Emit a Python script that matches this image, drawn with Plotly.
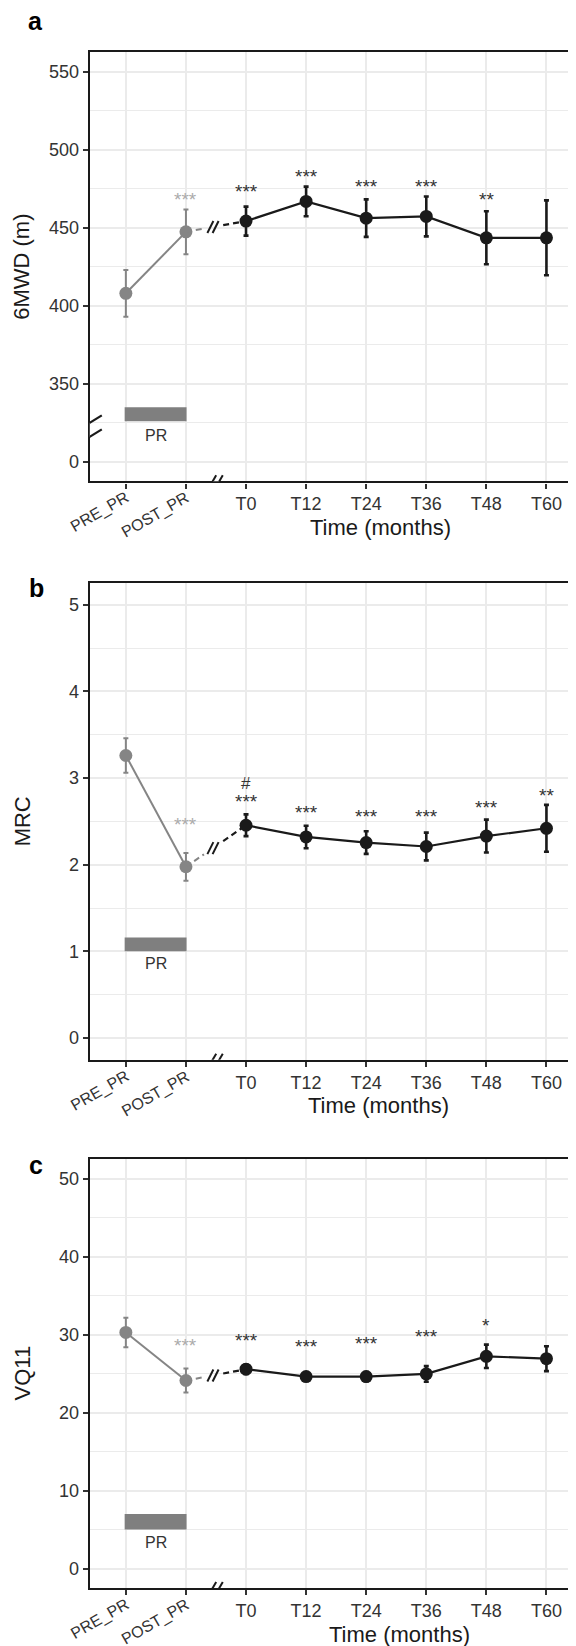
import plotly.graph_objects as go

# ---------------- data ----------------
categories = ["PRE_PR", "POST_PR", "T0", "T12", "T24", "T36", "T48", "T60"]
time_labels = ["T0", "T12", "T24", "T36", "T48", "T60"]

mwd_mean = [408.0, 447.4, 454.3, 466.9, 456.2, 457.3, 443.6, 443.6]
mwd_err = [15.0, 14.4, 9.3, 9.5, 12.0, 12.8, 17.0, 24.0]
mwd_sig = ["", "***", "***", "***", "***", "***", "**", ""]
mwd_sig_y = [None, 470.9, 475.6, 485.4, 479.0, 479.0, 470.9, None]
mwd_tickvals = [300, 350, 400, 450, 500, 550]
mwd_ticktext = ["0", "350", "400", "450", "500", "550"]

mrc_mean = [3.26, 1.976, 2.455, 2.32, 2.255, 2.21, 2.33, 2.42]
mrc_err = [0.20, 0.16, 0.125, 0.13, 0.13, 0.16, 0.19, 0.27]
mrc_sig = ["", "***", "***", "***", "***", "***", "***", "**"]
mrc_sig_y = [None, 2.505, 2.77, 2.65, 2.60, 2.60, 2.71, 2.85]
mrc_hash = ["", "", "#", "", "", "", "", ""]
mrc_hash_y = [None, None, 2.94, None, None, None, None, None]
mrc_tickvals = [0, 1, 2, 3, 4, 5]
mrc_ticktext = ["0", "1", "2", "3", "4", "5"]

vq_mean = [30.26, 24.1, 25.55, 24.6, 24.6, 24.95, 27.2, 26.9]
vq_err = [1.9, 1.55, 0.6, 0.5, 0.6, 1.0, 1.5, 1.6]
vq_sig = ["", "***", "***", "***", "***", "***", "*", ""]
vq_sig_y = [None, 29.1, 29.8, 29.0, 29.4, 30.3, 31.7, None]
vq_tickvals = [0, 10, 20, 30, 40, 50]
vq_ticktext = ["0", "10", "20", "30", "40", "50"]

y_titles = ["6MWD (m)", "MRC", "VQ11"]
panel_letters = ["a", "b", "c"]
x_title = "Time (months)"
pr_label = "PR"

# ---------------- style / layout constants ----------------
W, H = 576, 1646
FONT = "Liberation Sans, Arial, sans-serif"
GREY = "#858585"
GREY_TXT = "#ababab"
BLACK = "#1a1a1a"
GRID = "#ebebeb"
BAR = "#7f7f7f"

x_dom = [81.8 / W, 574.5 / W]
panels_px = [(44.3, 473.3), (575.0, 1051.7), (1151.0, 1580.0)]
letter_px = [(27, 13.5), (28, 580), (27.5, 1156.5)]
y_ranges = [[287.5, 562.5], [-0.25, 5.25], [-2.5, 52.5]]
minor_dt = [25, 0.5, 5]
pr_rect = [(326, 335), (1.0, 1.16), (5.0, 7.0)]
pr_text_y = [316.8, 0.856, 3.3]
xtitle_x = [4.23, 4.2, 4.55]

idx = list(range(len(categories)))

means = [mwd_mean, mrc_mean, vq_mean]
errs = [mwd_err, mrc_err, vq_err]
sigs = [mwd_sig, mrc_sig, vq_sig]
sig_ys = [mwd_sig_y, mrc_sig_y, vq_sig_y]
tvals = [mwd_tickvals, mrc_tickvals, vq_tickvals]
ttext = [mwd_ticktext, mrc_ticktext, vq_ticktext]

fig = go.Figure()
shapes = []
annotations = []


def lerp(a, b, t):
    return a + (b - a) * t


for p in range(3):
    sfx = "" if p == 0 else str(p + 1)
    xr, yr = "x" + sfx, "y" + sfx
    m, e = means[p], errs[p]

    # grey PR segment
    fig.add_trace(go.Scatter(
        x=idx[0:2], y=m[0:2], mode="lines+markers", xaxis=xr, yaxis=yr,
        line=dict(color=GREY, width=2),
        marker=dict(color=GREY, size=13),
        error_y=dict(type="data", array=e[0:2], color=GREY, thickness=2, width=2.5),
        hoverinfo="skip"))
    # dashed connection (grey half / black half, broken)
    t1, t2 = 0.30, 0.62
    fig.add_trace(go.Scatter(
        x=[idx[1], lerp(idx[1], idx[2], t1)], y=[m[1], lerp(m[1], m[2], t1)],
        mode="lines", xaxis=xr, yaxis=yr,
        line=dict(color=GREY, width=2, dash="6px,4px"), hoverinfo="skip"))
    fig.add_trace(go.Scatter(
        x=[lerp(idx[1], idx[2], t2), idx[2]], y=[lerp(m[1], m[2], t2), m[2]],
        mode="lines", xaxis=xr, yaxis=yr,
        line=dict(color=BLACK, width=2.2, dash="6px,4px"), hoverinfo="skip"))
    # black follow-up series
    fig.add_trace(go.Scatter(
        x=idx[2:], y=m[2:], mode="lines+markers", xaxis=xr, yaxis=yr,
        line=dict(color=BLACK, width=2.2),
        marker=dict(color=BLACK, size=13),
        error_y=dict(type="data", array=e[2:], color=BLACK, thickness=2.6, width=2.5),
        hoverinfo="skip"))

    # data-line break slashes
    tb = 0.45
    ymid = lerp(m[1], m[2], tb)
    xb = lerp(idx[1], idx[2], tb)
    for off in (-2.6, 2.6):
        shapes.append(dict(type="line", xref=xr, yref=yr, xsizemode="pixel", ysizemode="pixel",
                           xanchor=xb, yanchor=ymid, x0=off - 3, x1=off + 3, y0=-6, y1=6,
                           line=dict(color=BLACK, width=2)))

    # x-axis break
    yb = y_ranges[p][0]
    shapes.append(dict(type="rect", xref=xr, yref=yr, xsizemode="pixel", ysizemode="pixel",
                       xanchor=1.5, yanchor=yb, x0=-3, x1=3, y0=-2.5, y1=2.5,
                       fillcolor="white", line=dict(width=0), layer="above"))
    for off in (-3.3, 3.3):
        shapes.append(dict(type="line", xref=xr, yref=yr, xsizemode="pixel", ysizemode="pixel",
                           xanchor=1.5, yanchor=yb, x0=off - 3.5, x1=off + 3.5, y0=-6, y1=6,
                           line=dict(color=BLACK, width=2), layer="above"))

    # PR bar
    shapes.append(dict(type="rect", xref=xr, yref=yr, x0=-0.02, x1=1.01,
                       y0=pr_rect[p][0], y1=pr_rect[p][1], fillcolor=BAR,
                       line=dict(width=0), layer="above"))
    annotations.append(dict(xref=xr, yref=yr, x=0.5, y=pr_text_y[p], text=pr_label,
                            showarrow=False, xanchor="center", yanchor="middle",
                            font=dict(family="Liberation Sans Narrow, Liberation Sans, Arial", size=16, color="#333333")))

    # significance stars
    for i in idx:
        if sigs[p][i]:
            col = GREY_TXT if i < 2 else "#333333"
            annotations.append(dict(xref=xr, yref=yr, x=i, y=sig_ys[p][i], text=sigs[p][i],
                                    showarrow=False, xanchor="center", yanchor="middle", yshift=-4,
                                    font=dict(family=FONT, size=19, color=col)))

    # rotated tick labels for PR period
    for i in (0, 1):
        annotations.append(dict(xref=xr, yref=yr, x=i + 0.13, y=y_ranges[p][0], text=categories[i],
                                showarrow=False, textangle=-30, xanchor="right", yanchor="top",
                                yshift=-6, borderpad=0,
                                font=dict(family=FONT, size=16, color="#333333")))

    # x-axis title
    dom_bot = 1 - panels_px[p][1] / H
    dom_top = 1 - panels_px[p][0] / H
    annotations.append(dict(xref=xr, yref="paper", x=xtitle_x[p], y=dom_bot - 46 / H, text=x_title,
                            showarrow=False, xanchor="center", yanchor="middle",
                            font=dict(family=FONT, size=22, color=BLACK)))
    # y-axis title
    annotations.append(dict(xref="paper", yref="paper", x=14 / W, y=(dom_bot + dom_top) / 2,
                            text=y_titles[p], showarrow=False, textangle=-90,
                            xanchor="center", yanchor="middle",
                            font=dict(family=FONT, size=22, color=BLACK)))
    # panel letter
    annotations.append(dict(xref="paper", yref="paper", x=letter_px[p][0] / W,
                            y=1 - letter_px[p][1] / H, text="<b>%s</b>" % panel_letters[p],
                            showarrow=False, xanchor="center", yanchor="middle",
                            font=dict(family=FONT, size=25, color="black")))

    fig.layout["xaxis" + sfx] = dict(
        domain=x_dom, anchor=yr, range=[-0.6, 7.6], tickvals=idx,
        ticktext=["", ""] + time_labels, ticks="outside", ticklen=5, tickwidth=1.5,
        tickcolor="#333333", showline=True, mirror=True, linecolor=BLACK, linewidth=2.4,
        showgrid=True, gridcolor=GRID, gridwidth=1.6, zeroline=False,
        tickfont=dict(family=FONT, size=18, color="#333333"), fixedrange=True)
    fig.layout["yaxis" + sfx] = dict(
        domain=[dom_bot, dom_top], anchor=xr, range=y_ranges[p], tickvals=tvals[p],
        ticktext=ttext[p], ticks="outside", ticklen=5, tickwidth=1.5, tickcolor="#333333",
        showline=True, mirror=True, linecolor=BLACK, linewidth=2.4,
        showgrid=True, gridcolor=GRID, gridwidth=1.6, zeroline=False,
        minor=dict(dtick=minor_dt[p], tick0=0, showgrid=True, gridcolor=GRID, gridwidth=1.1, ticks=""),
        tickfont=dict(family=FONT, size=18, color="#333333"), fixedrange=True)

# "#" marker above T0 in panel b
for i in idx:
    if mrc_hash[i]:
        annotations.append(dict(xref="x2", yref="y2", x=i, y=mrc_hash_y[i], text=mrc_hash[i],
                                showarrow=False, xanchor="center", yanchor="middle",
                                font=dict(family=FONT, size=17, color="#333333")))

# y-axis break on panel a (300 shown as 0)
ybrk = 320.5
shapes.append(dict(type="rect", xref="x", yref="y", xsizemode="pixel", ysizemode="pixel",
                   xanchor=-0.6, yanchor=ybrk, x0=-3, x1=3, y0=-7, y1=7,
                   fillcolor="white", line=dict(width=0), layer="above"))
for off in (7, -7):
    shapes.append(dict(type="line", xref="x", yref="y", xsizemode="pixel", ysizemode="pixel",
                       xanchor=-0.6, yanchor=ybrk, x0=-12, x1=12, y0=off - 7.5, y1=off + 7.5,
                       line=dict(color=BLACK, width=2.2), layer="above"))

fig.update_layout(
    width=W, height=H, margin=dict(l=0, r=0, t=0, b=0),
    paper_bgcolor="white", plot_bgcolor="white", showlegend=False,
    shapes=shapes, annotations=annotations,
    font=dict(family=FONT))

fig.write_html("out.html")
